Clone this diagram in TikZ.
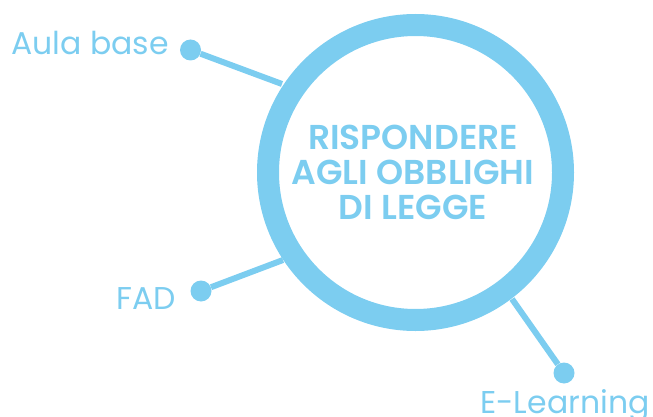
\documentclass[tikz,border=0pt]{standalone}
\usepackage{fontspec}
\setmainfont{Poppins}
\newfontfamily\titlef{Poppins SemiBold}
\definecolor{sky}{HTML}{7CCDF0}
\tikzset{
  ring/.style={circle,draw=sky,line width=22pt,minimum size=295pt,inner sep=0pt},
  dotn/.style={circle,fill=sky,minimum size=21pt,inner sep=0pt},
  lab/.style={text=sky,inner sep=0pt,anchor=base,font=\fontsize{31.5}{36}\selectfont},
  ttl/.style={text=sky,inner sep=0pt,anchor=center,font=\titlef\fontsize{34.5}{35}\selectfont},
  conn/.style={draw=sky,line width=6pt}
}
\begin{document}
\begin{tikzpicture}[x=1pt,y=-1pt]
\useasboundingbox (0,0) rectangle (653,417);
\node[ring] (c) at (415.5,172.5) {};
\node[ttl] (t1) at (413,137) {RISPONDERE};
\node[ttl] (t2) at (413,172) {AGLI OBBLIGHI};
\node[ttl] (t3) at (413,207) {DI LEGGE};
\node[dotn] (a) at (190.5,50) {};
\node[dotn] (f) at (201,291) {};
\node[dotn] (e) at (564,373) {};
\coordinate (ca) at (282,84);
\coordinate (cf) at (283,260);
\coordinate (ce) at (512,299);
\draw[conn] (a) -- (ca);
\draw[conn] (f) -- (cf);
\draw[conn] (e) -- (ce);
\node[lab] (la) at (90,55) {Aula base};
\node[lab] (lf) at (146.5,309) {FAD};
\node[lab] (le) at (565,413) {E-Learning};
\end{tikzpicture}
\end{document}
